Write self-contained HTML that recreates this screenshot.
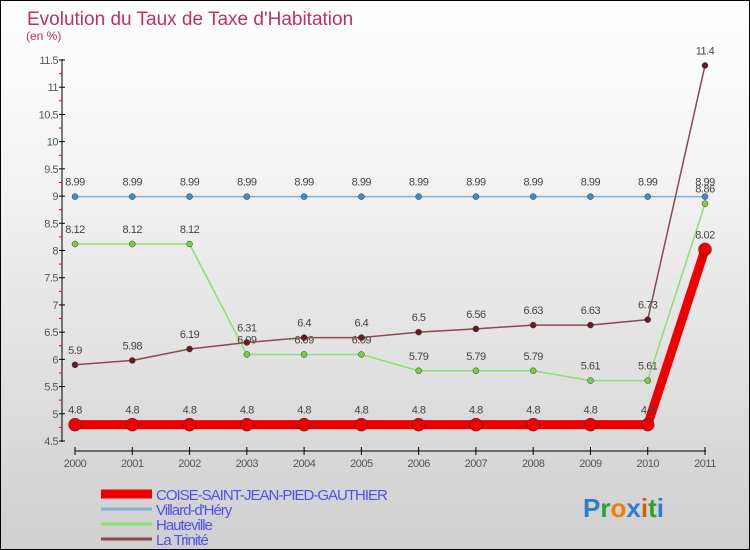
<!DOCTYPE html>
<html><head><meta charset="utf-8"><style>
body{margin:0;width:750px;height:550px;overflow:hidden;font-family:"Liberation Sans",sans-serif}
#wrap{position:absolute;left:0;top:0;width:748px;height:548px;border:1px solid #000;background:linear-gradient(#fff,#f4f4f4 30%,#cfcfcf)}
</style></head><body>
<div id="wrap">
<svg id="c" width="748" height="548" style="position:absolute;left:0;top:0"></svg>
</div>
<script>
const years=[2000,2001,2002,2003,2004,2005,2006,2007,2008,2009,2010,2011];
const coise=[4.8,4.8,4.8,4.8,4.8,4.8,4.8,4.8,4.8,4.8,4.8,8.02];
const villard=[8.99,8.99,8.99,8.99,8.99,8.99,8.99,8.99,8.99,8.99,8.99,8.99];
const hauteville=[8.12,8.12,8.12,6.09,6.09,6.09,5.79,5.79,5.79,5.61,5.61,8.86];
const trinite=[5.9,5.98,6.19,6.31,6.4,6.4,6.5,6.56,6.63,6.63,6.73,11.4];
const yTicks=[4.5,5,5.5,6,6.5,7,7.5,8,8.5,9,9.5,10,10.5,11,11.5];
const seriesNames=["COISE-SAINT-JEAN-PIED-GAUTHIER","Villard-d'Héry","Hauteville","La Trinité"];

const NS="http://www.w3.org/2000/svg",svg=document.getElementById('c');
const X=i=>74+i*(704-74)/11;
const Y=v=>440-(v-4.5)*(440-59)/7;
function el(t,a,p){const e=document.createElementNS(NS,t);for(const k in a)e.setAttribute(k,a[k]);(p||svg).appendChild(e);return e;}
function tx(x,y,s,a){const e=el('text',Object.assign({x:x,y:y},a));e.textContent=s;return e;}

let t=tx(26,24,'Evolution du Taux de Taxe d\'Habitation',{fill:'#c0305e','font-size':19});


t=tx(25,39,'(en %)',{fill:'#c0305e','font-size':12});



let a=el('line',{x1:61,y1:58,x2:61,y2:441,stroke:'#000'});


a=el('line',{x1:74,y1:450,x2:705,y2:450,stroke:'#000'});


yTicks.forEach((v,i)=>{
  const y=Y(v);
  el('line',{x1:58,y1:y,x2:64,y2:y,stroke:'#000'});
  const l=tx(57,y+4,String(v),{fill:'#555','font-size':11,'text-anchor':'end','letter-spacing':'-0.5'});
  
  
  if(i<yTicks.length-1){const ym=Y(v+0.25);el('line',{x1:58,y1:ym,x2:61,y2:ym,stroke:'#e00'});}
});
years.forEach((yr,i)=>{
  el('line',{x1:X(i),y1:446,x2:X(i),y2:454,stroke:'#000'});
  const l=tx(X(i),466,String(yr),{fill:'#555','font-size':11,'text-anchor':'middle','letter-spacing':'-0.5'});
  
  
});

function series(data,color,ptColor,w,r,name){
  const g=el('g',{});
  
  
  el('polyline',{points:data.map((v,i)=>X(i)+','+Y(v)).join(' '),fill:'none',stroke:color,'stroke-width':w},g);
  data.forEach((v,i)=>{
    const c=el('circle',{cx:X(i),cy:Y(v),r:r,fill:ptColor,stroke:'#333','stroke-width':0.5},g);
    
    
    const l=tx(X(i),Y(v)-11,String(v),{fill:'#444','font-size':11,'text-anchor':'middle','letter-spacing':'-0.5'},g);
    
    
  });
}
series(villard,'#7fb0d8','#3a8fd0',1.5,3,'series-villard');
series(hauteville,'#90dd70','#7ccc40',1.5,3,'series-hauteville');
series(trinite,'#8a4a50','#6a1a24',1.5,3,'series-trinite');
series(coise,'#ee0000','#ee0000',9,6.5,'series-coise');

const lc=['#ee0000','#7fb0d8','#90dd70','#8a4a50'],lw=[9,3,3,3],ly=[493,508,523,538];
seriesNames.forEach((n,i)=>{
  const g=el('g',{});
  
  
  el('line',{x1:100,y1:ly[i],x2:151,y2:ly[i],stroke:lc[i],'stroke-width':lw[i]},g);
  tx(155,ly[i]+6,n,{fill:'#5050f0','font-size':15,'letter-spacing':'-1'},g);
});
const lg=el('g',{});


const lt=tx(582,516,'',{'font-size':26,'font-weight':'bold'},lg);
'Proxiti'.split('').forEach((ch,i)=>{const s=el('tspan',{fill:['#2a7fd0','#30a030','#f08000','#2a7fd0','#d06000','#30a030','#2a7fd0'][i]},lt);s.textContent=ch;});
</script>
</body></html>
